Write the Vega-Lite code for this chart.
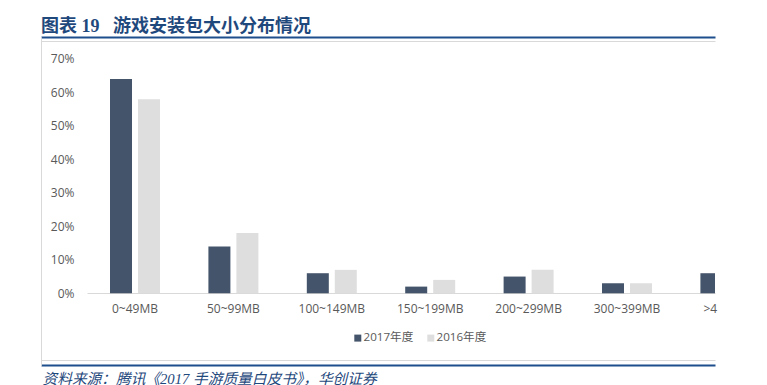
{
  "$schema": "https://vega.github.io/schema/vega-lite/v6.json",
  "autosize": {"type": "none"},
  "padding": {"left": 41, "top": 41, "right": 52, "bottom": 25},
  "width": 674,
  "height": 319,
  "background": "white",
  "config": {
    "view": {"stroke": null},
    "axis": {"labelFont": "Open Sans, Noto Sans CJK SC", "labelFontSize": 12, "labelColor": "#595959"}
  },
  "title": {
    "text": "图表 19\u00a0\u00a0\u00a0游戏安装包大小分布情况",
    "anchor": "start",
    "frame": "group",
    "font": "Liberation Serif, Noto Sans CJK SC",
    "fontSize": 18,
    "fontWeight": "bold",
    "color": "#1f497d",
    "offset": 5
  },
  "data": {
    "values": [
      {"size": "0~49MB", "year": "2017年度", "share": 0.64},
      {"size": "0~49MB", "year": "2016年度", "share": 0.58},
      {"size": "50~99MB", "year": "2017年度", "share": 0.14},
      {"size": "50~99MB", "year": "2016年度", "share": 0.18},
      {"size": "100~149MB", "year": "2017年度", "share": 0.06},
      {"size": "100~149MB", "year": "2016年度", "share": 0.07},
      {"size": "150~199MB", "year": "2017年度", "share": 0.02},
      {"size": "150~199MB", "year": "2016年度", "share": 0.04},
      {"size": "200~299MB", "year": "2017年度", "share": 0.05},
      {"size": "200~299MB", "year": "2016年度", "share": 0.07},
      {"size": "300~399MB", "year": "2017年度", "share": 0.03},
      {"size": "300~399MB", "year": "2016年度", "share": 0.03},
      {"size": ">400MB", "year": "2017年度", "share": 0.06},
      {"size": ">400MB", "year": "2016年度", "share": 0.03}
    ]
  },
  "layer": [
    {
      "mark": {"type": "bar", "clip": true},
      "encoding": {
        "x": {
          "field": "size",
          "type": "nominal",
          "sort": ["0~49MB", "50~99MB", "100~149MB", "150~199MB", "200~299MB", "300~399MB", ">400MB"],
          "scale": {"range": [44.8, 733.6], "paddingInner": 0.492, "paddingOuter": 0.246},
          "axis": {
            "orient": "bottom",
            "offset": -67,
            "domain": false,
            "ticks": false,
            "labelAngle": 0,
            "labelPadding": 10,
            "labelExpr": "datum.value === '>400MB' ? truncate(datum.label, 2, 'right', '') : datum.label",
            "labelAlign": {"condition": {"test": "datum.value === '>400MB'", "value": "left"}, "value": "center"},
            "labelOffset": {"condition": {"test": "datum.value === '>400MB'", "value": -22}, "value": 0},
            "title": "资料来源：腾讯《2017 手游质量白皮书》，华创证券",
            "titleX": 1,
            "titleY": 86,
            "titleAlign": "left",
            "titleAnchor": "start",
            "titleBaseline": "middle",
            "titleFont": "Liberation Serif, Noto Sans CJK SC",
            "titleFontSize": 14.7,
            "titleFontStyle": "italic",
            "titleFontWeight": "normal",
            "titleColor": "#1f497d"
          }
        },
        "xOffset": {
          "field": "year",
          "type": "nominal",
          "sort": ["2017年度", "2016年度"],
          "scale": {"paddingInner": 0.214, "paddingOuter": 0}
        },
        "y": {
          "field": "share",
          "type": "quantitative",
          "scale": {"domain": [-0.2151, 0.7663], "range": [324.3, -4.2], "nice": false, "zero": false},
          "axis": {
            "orient": "left",
            "values": [0, 0.1, 0.2, 0.3, 0.4, 0.5, 0.6, 0.7],
            "format": ".0%",
            "offset": -46,
            "domain": false,
            "ticks": false,
            "grid": false,
            "labelPadding": 13,
            "title": null
          }
        },
        "color": {
          "field": "year",
          "type": "nominal",
          "scale": {"domain": ["2017年度", "2016年度"], "range": ["#44546a", "#dedede"]},
          "legend": {
            "orient": "none",
            "legendX": 311,
            "legendY": 291,
            "direction": "horizontal",
            "title": null,
            "symbolType": "square",
            "symbolSize": 49,
            "symbolStrokeWidth": 0,
            "labelFont": "Open Sans, Noto Sans CJK SC",
            "labelFontSize": 11.6,
            "labelColor": "#595959",
            "labelOffset": 0,
            "columnPadding": 11,
            "padding": 0
          }
        }
      }
    },
    {
      "mark": {"type": "rule", "opacity": 0},
      "encoding": {
        "y": {
          "datum": 0,
          "type": "quantitative",
          "axis": {
            "orient": "left",
            "offset": 0,
            "values": [-0.2151, -0.1993, 0.7538, 0.7663],
            "labels": false,
            "domain": true,
            "domainColor": "#d9d9d9",
            "domainWidth": 1,
            "ticks": false,
            "grid": true,
            "gridColor": {"condition": {"test": "datum.value < -0.21 || datum.value > 0.76", "value": "#1f4e8c"}, "value": "#d9d9d9"},
            "gridWidth": {"condition": {"test": "datum.value < -0.21 || datum.value > 0.76", "value": 2}, "value": 1},
            "title": null
          }
        }
      }
    },
    {
      "mark": {"type": "rule", "opacity": 0},
      "encoding": {
        "y": {
          "datum": 0,
          "type": "quantitative",
          "axis": {
            "orient": "right",
            "offset": 0,
            "values": [0],
            "labels": false,
            "domain": false,
            "ticks": true,
            "tickSize": -628,
            "tickColor": "#d9d9d9",
            "grid": false,
            "title": null
          }
        }
      }
    }
  ],
  "resolve": {"axis": {"y": "independent"}}
}
